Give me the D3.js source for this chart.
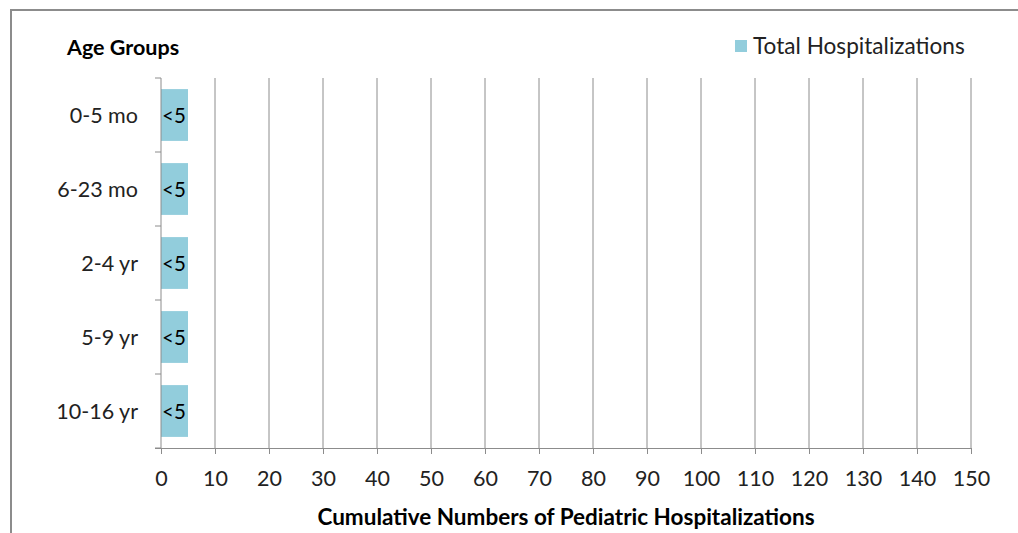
<!DOCTYPE html>
<html>
<head>
<meta charset="utf-8">
<script src="https://cdn.jsdelivr.net/npm/d3@7"></script>
<style>
  body { margin: 0; background: #fff; }
  svg { display: block; font-family: Lato, "Open Sans", sans-serif; }
</style>
</head>
<body>
<svg id="chart" width="1018" height="533"></svg>
<script>
// data
const categories = ['0-5 mo', '6-23 mo', '2-4 yr', '5-9 yr', '10-16 yr'];
const totalHosp = [5, 5, 5, 5, 5];
const barLabels = ['<5', '<5', '<5', '<5', '<5'];
const xTicks = d3.range(0, 151, 10);

const svg = d3.select('#chart');
const W = 1018, H = 533;
const margin = { left: 161, right: W - 971, top: 78, bottom: H - 448 };
const FS = 21.5;

// outer frame
svg.append('path')
  .attr('d', `M11,${H} L11,10 L${W},10`)
  .attr('fill', 'none')
  .attr('stroke', '#8c8c8c')
  .attr('stroke-width', 2);

const x = d3.scaleLinear().domain([0, 150]).range([margin.left, W - margin.right]);
const y = d3.scaleBand().domain(categories).range([margin.top, H - margin.bottom]).paddingInner(0.3).paddingOuter(0.15);
const step = (H - margin.bottom - margin.top) / categories.length;

// gridlines
svg.append('g')
  .selectAll('line')
  .data(xTicks.slice(1))
  .join('line')
  .attr('x1', d => x(d)).attr('x2', d => x(d))
  .attr('y1', margin.top).attr('y2', H - margin.bottom)
  .attr('stroke', '#8c8c8c')
  .attr('stroke-width', 1);

// bars
svg.append('g')
  .selectAll('rect')
  .data(categories)
  .join('rect')
  .attr('x', x(0))
  .attr('y', d => y(d))
  .attr('width', (d, i) => x(totalHosp[i]) - x(0))
  .attr('height', y.bandwidth())
  .attr('fill', '#92cddc');

svg.append('g')
  .selectAll('text')
  .data(categories)
  .join('text')
  .attr('x', x(0) + 1)
  .attr('y', d => y(d) + y.bandwidth() / 2 + 1)
  .attr('dy', '0.35em')
  .attr('font-size', 20.5)
  .attr('fill', '#000')
  .text((d, i) => barLabels[i]);

// x axis
const xAxis = svg.append('g')
  .attr('transform', `translate(0,${H - margin.bottom})`)
  .call(d3.axisBottom(x).tickValues(xTicks).tickSize(6).tickPadding(17));
xAxis.select('.domain').attr('stroke', '#8c8c8c').attr('d', `M${x(0) - 6},0.5H${x(150)}`);
xAxis.selectAll('.tick line').attr('stroke', '#8c8c8c');
xAxis.selectAll('.tick text').attr('font-size', FS).attr('fill', '#222').attr('font-family', 'Lato, sans-serif');

// y axis
const yAxis = svg.append('g');
yAxis.append('line')
  .attr('x1', x(0)).attr('x2', x(0))
  .attr('y1', margin.top).attr('y2', H - margin.bottom)
  .attr('stroke', '#8c8c8c');
yAxis.selectAll('.ytick')
  .data(d3.range(categories.length + 1))
  .join('line')
  .attr('class', 'ytick')
  .attr('x1', x(0) - 6).attr('x2', x(0))
  .attr('y1', i => margin.top + i * step).attr('y2', i => margin.top + i * step)
  .attr('stroke', '#8c8c8c');
yAxis.selectAll('.ylabel')
  .data(categories)
  .join('text')
  .attr('class', 'ylabel')
  .attr('x', 138)
  .attr('y', d => y(d) + y.bandwidth() / 2)
  .attr('dy', '0.35em')
  .attr('text-anchor', 'end')
  .attr('font-size', FS)
  .attr('fill', '#222')
  .text(d => d);

// titles
svg.append('text')
  .attr('x', 67).attr('y', 55)
  .attr('font-size', 21.5).attr('font-weight', 'bold')
  .text('Age Groups');

svg.append('text')
  .attr('x', 566).attr('y', 525)
  .attr('text-anchor', 'middle')
  .attr('font-size', 22.5).attr('font-weight', 'bold')
  .text('Cumulative Numbers of Pediatric Hospitalizations');

// legend
svg.append('rect')
  .attr('x', 735).attr('y', 40).attr('width', 12).attr('height', 12)
  .attr('fill', '#92cddc');
svg.append('text')
  .attr('x', 753).attr('y', 54)
  .attr('font-size', 22.6).attr('fill', '#222')
  .text('Total Hospitalizations');
</script>
</body>
</html>
